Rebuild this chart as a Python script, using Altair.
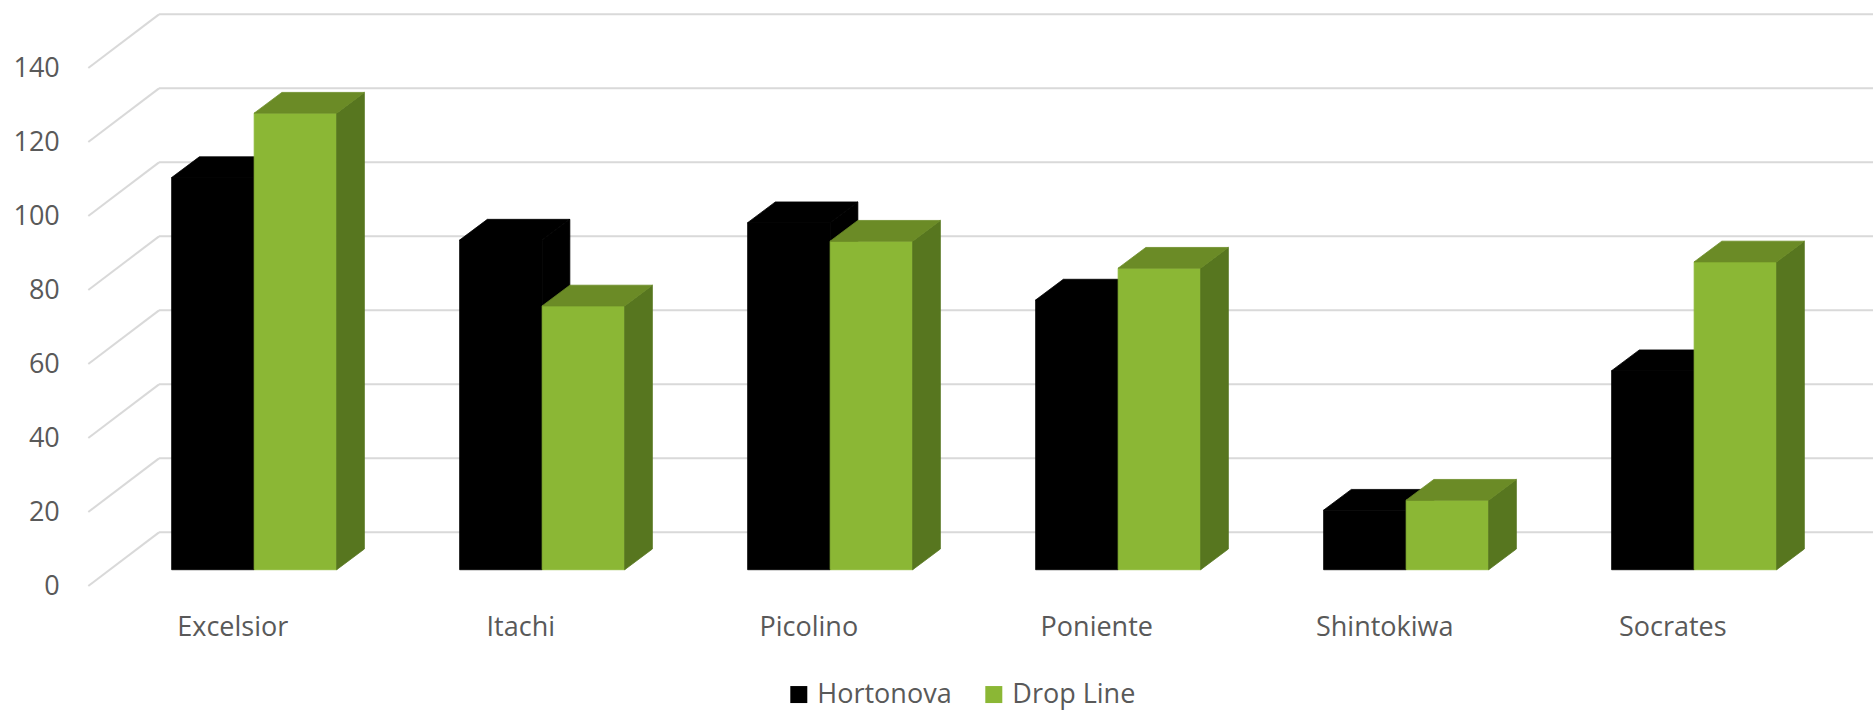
import json
import altair as alt
import pandas as pd

# ---------------- data ----------------
categories = ["Excelsior", "Itachi", "Picolino", "Poniente", "Shintokiwa", "Socrates"]
series_names = ["Hortonova", "Drop Line"]
hortonova = [106.0, 89.1, 93.8, 72.9, 16.1, 53.8]
drop_line = [123.4, 71.3, 88.8, 81.5, 18.8, 83.2]
y_ticks = [0, 20, 40, 60, 80, 100, 120, 140]

# ---------------- style ----------------
FRONT_COLORS = ["#000000", "#8BB735"]
TOP_COLORS = ["#000000", "#6B8B26"]
SIDE_COLORS = ["#000000", "#57761F"]
GRID = "#D9D9D9"
TEXT = "#595959"
FONT = "Open Sans"

# oblique 3-D geometry (x in category units, y in value units)
WALL_DX, WALL_DY = 0.2455, 14.5
BAR_DX, BAR_DY = 0.0962, 5.6
BAR_BASE = 4.4
BAR_START, BAR_W = 0.2894, 0.2865
X_MAX, Y_MAX = 6.197, 156.0
W, H = 1784.7, 577.2

xs = alt.Scale(domain=[0, X_MAX], nice=False, zero=False)
ys = alt.Scale(domain=[0, Y_MAX], nice=False, zero=False)

label_expr = json.dumps(categories) + "[round(datum.value - 0.5)]"
X_AXIS = alt.Axis(values=[i + 0.5 for i in range(len(categories))],
                  labelExpr=label_expr, domain=False, ticks=False, tickSize=0,
                  grid=False, labelPadding=49, labelBaseline="alphabetic",
                  labelFontSize=27, labelFont=FONT, labelColor=TEXT, title=None)
Y_AXIS = alt.Axis(values=y_ticks, domain=False, ticks=False, tickSize=0, grid=False,
                  labelPadding=29, labelFontSize=27, labelFont=FONT,
                  labelColor=TEXT, title=None)

# ---------------- derived tables ----------------
values_by_series = [hortonova, drop_line]

grid_rows = []
for v in y_ticks:
    grid_rows.append({"xa": 0.0, "xb": WALL_DX, "ya": v, "yb": v + WALL_DY})
    grid_rows.append({"xa": WALL_DX, "xb": X_MAX, "ya": v + WALL_DY, "yb": v + WALL_DY})
grid_df = pd.DataFrame(grid_rows)

front_rows = []
top_rows = [[], []]
side_rows = [[], []]
for s, (name, vals) in enumerate(zip(series_names, values_by_series)):
    for i, (cat, v) in enumerate(zip(categories, vals)):
        x0 = i + BAR_START + s * BAR_W
        x1 = x0 + BAR_W
        ytop = BAR_BASE + v
        bid = f"{s}-{i}"
        front_rows.append({"series": name, "category": cat, "value": v,
                           "x0": x0, "x1": x1, "y0": BAR_BASE, "y1": ytop})
        top_rows[s].append({"id": bid, "y": ytop, "xa": x0, "xb": x1})
        top_rows[s].append({"id": bid, "y": ytop + BAR_DY, "xa": x0 + BAR_DX, "xb": x1 + BAR_DX})
        side_rows[s].append({"id": bid, "x": x1, "ya": BAR_BASE, "yb": ytop})
        side_rows[s].append({"id": bid, "x": x1 + BAR_DX, "ya": BAR_BASE + BAR_DY, "yb": ytop + BAR_DY})
front_df = pd.DataFrame(front_rows)

# ---------------- layers ----------------
grid = alt.Chart(grid_df).mark_rule(color=GRID, strokeWidth=2).encode(
    x=alt.X("xa:Q", scale=xs, axis=X_AXIS),
    x2="xb:Q",
    y=alt.Y("ya:Q", scale=ys, axis=Y_AXIS),
    y2="yb:Q",
)


def side_layer(s):
    return alt.Chart(pd.DataFrame(side_rows[s])).mark_area(
        orient="vertical", color=SIDE_COLORS[s], stroke=SIDE_COLORS[s],
        strokeWidth=0.8).encode(
        x=alt.X("x:Q", scale=xs, axis=X_AXIS),
        y=alt.Y("ya:Q", scale=ys, axis=Y_AXIS, stack=False),
        y2="yb:Q",
        detail="id:N",
    )


def top_layer(s):
    return alt.Chart(pd.DataFrame(top_rows[s])).mark_area(
        orient="horizontal", color=TOP_COLORS[s], stroke=TOP_COLORS[s],
        strokeWidth=0.8).encode(
        y=alt.Y("y:Q", scale=ys, axis=Y_AXIS),
        x=alt.X("xa:Q", scale=xs, axis=X_AXIS, stack=False),
        x2="xb:Q",
        detail="id:N",
    )


fronts = alt.Chart(front_df).mark_rect(strokeWidth=0.8).encode(
    x=alt.X("x0:Q", scale=xs, axis=X_AXIS),
    x2="x1:Q",
    y=alt.Y("y0:Q", scale=ys, axis=Y_AXIS),
    y2="y1:Q",
    color=alt.Color("series:N",
                    scale=alt.Scale(domain=series_names, range=FRONT_COLORS),
                    legend=alt.Legend(orient="none", legendX=697, legendY=672,
                                      direction="horizontal", title=None,
                                      symbolType="square", symbolSize=289,
                                      symbolStrokeWidth=0, labelFontSize=27,
                                      labelFont=FONT, labelColor=TEXT,
                                      labelOffset=5, columnPadding=28, padding=0)),
    stroke=alt.Stroke("series:N",
                      scale=alt.Scale(domain=series_names, range=FRONT_COLORS),
                      legend=None),
    tooltip=["category:N", "series:N", "value:Q"],
)

chart = alt.layer(
    grid,
    side_layer(0), top_layer(0),
    fronts,
    side_layer(1), top_layer(1),
).properties(
    width=W, height=H,
    autosize=alt.AutoSizeParams(type="none"),
    padding={"left": 88.3, "top": 8.8, "right": 0, "bottom": 124},
    background="white",
).configure_view(strokeWidth=0)

chart.save("out.html", embed_options={"renderer": "svg", "actions": False})
